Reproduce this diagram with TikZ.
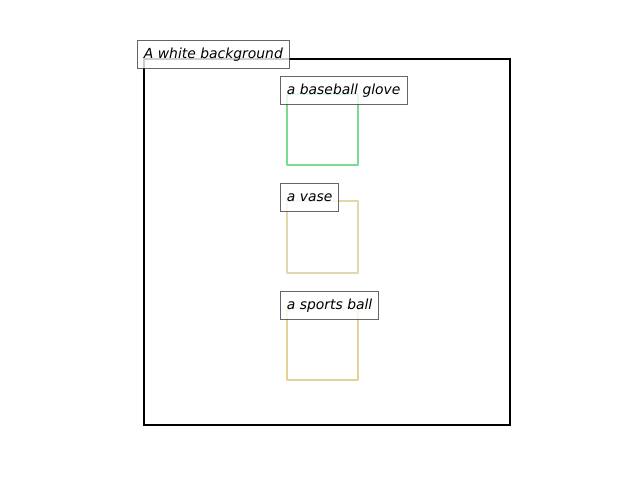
\documentclass[tikz,border=0pt]{standalone}
\usepackage{fontspec}
\setmainfont{DejaVu Sans}
\usetikzlibrary{positioning}
\definecolor{glovegreen}{RGB}{122,220,145}
\definecolor{vasetan}{RGB}{225,215,170}
\definecolor{balltan}{RGB}{228,210,150}
\tikzset{
  tag/.style={draw=black!75, fill=white, fill opacity=0.8, text opacity=1,
    draw opacity=0.8, line width=0.9pt, inner xsep=6.5pt, inner ysep=7.5pt,
    text height=10.5pt, text depth=2.5pt,
    anchor=west, font=\fontsize{13.9}{16}\selectfont\itshape},
  region/.style={line width=2.7pt, line join=round},
}
\begin{document}
\begin{tikzpicture}[x=1pt,y=-1pt]
\useasboundingbox (0,0) rectangle (640,480);
% frame of the image
\draw [line width=2pt,black] (144,59) rectangle (510,425);
% detected regions
\draw [region,glovegreen] (287,94) rectangle (358,165);
\draw [region,vasetan] (287,201) rectangle (358,273);
\draw [region,balltan] (287,308) rectangle (358,380);
% captions
\node [tag] (bg) at (137,54) {A white background};
\node [tag] (glove) at (280,90) {a baseball glove};
\node [tag] (vase) at (280,197) {a vase};
\node [tag] (ball) at (280,305) {a sports ball};
\end{tikzpicture}
\end{document}
